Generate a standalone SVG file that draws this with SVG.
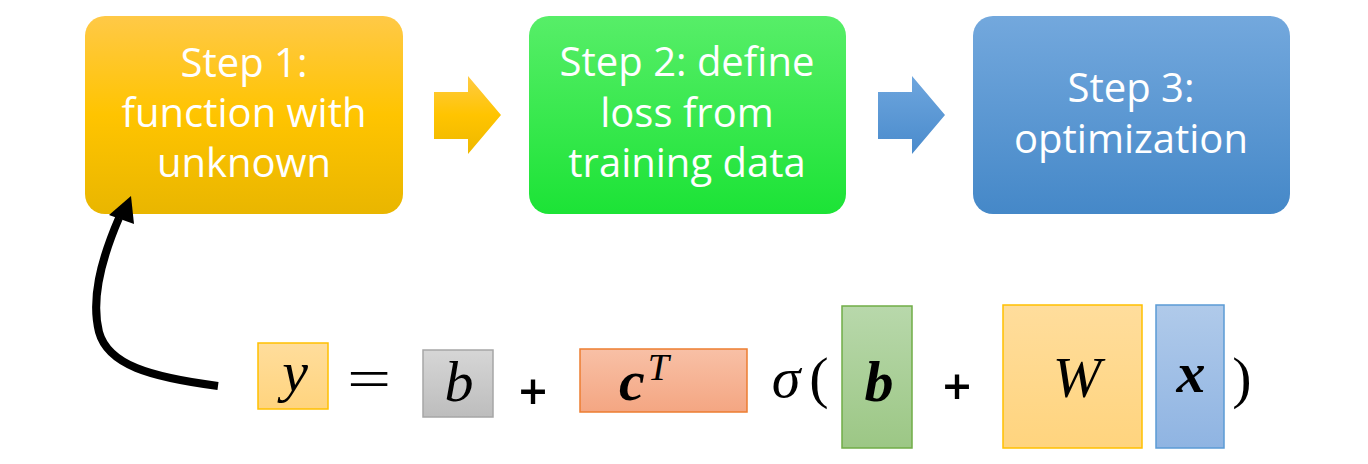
<svg xmlns="http://www.w3.org/2000/svg" width="1368" height="464" viewBox="0 0 1368 464">
<defs>
<linearGradient id="gY" x1="0" y1="0" x2="0" y2="1"><stop offset="0" stop-color="#FFC947"/><stop offset="0.5" stop-color="#FFC400"/><stop offset="1" stop-color="#E9B600"/></linearGradient>
<linearGradient id="gG" x1="0" y1="0" x2="0" y2="1"><stop offset="0" stop-color="#57EE68"/><stop offset="1" stop-color="#1CE336"/></linearGradient>
<linearGradient id="gB" x1="0" y1="0" x2="0" y2="1"><stop offset="0" stop-color="#73A8DD"/><stop offset="1" stop-color="#4588C8"/></linearGradient>
<linearGradient id="gAY" x1="0" y1="0" x2="0" y2="1"><stop offset="0" stop-color="#FFCB45"/><stop offset="0.5" stop-color="#FFC400"/><stop offset="1" stop-color="#EEB800"/></linearGradient>
<linearGradient id="gAB" x1="0" y1="0" x2="0" y2="1"><stop offset="0" stop-color="#6EA6DE"/><stop offset="1" stop-color="#4A8BCC"/></linearGradient>
<linearGradient id="fY" x1="0" y1="0" x2="0" y2="1"><stop offset="0" stop-color="#FFDD9C"/><stop offset="1" stop-color="#FFD47E"/></linearGradient>
<linearGradient id="fGr" x1="0" y1="0" x2="0" y2="1"><stop offset="0" stop-color="#D6D6D6"/><stop offset="1" stop-color="#BDBDBD"/></linearGradient>
<linearGradient id="fO" x1="0" y1="0" x2="0" y2="1"><stop offset="0" stop-color="#F8C0A6"/><stop offset="1" stop-color="#F4A682"/></linearGradient>
<linearGradient id="fG" x1="0" y1="0" x2="0" y2="1"><stop offset="0" stop-color="#B8D8AB"/><stop offset="1" stop-color="#9CC785"/></linearGradient>
<linearGradient id="fB" x1="0" y1="0" x2="0" y2="1"><stop offset="0" stop-color="#B0CAEA"/><stop offset="1" stop-color="#8FB4E2"/></linearGradient>
</defs>
<style>
.step{font-family:"Open Sans","Noto Sans",sans-serif;font-size:40px;fill:#FFFFFF;text-anchor:middle}
.m{font-family:"Liberation Serif","Times New Roman",serif;font-size:58px;fill:#000;text-anchor:middle}
.i{font-style:italic}
.bi{font-style:italic;font-weight:bold}
.op{font-family:"Open Sans","Noto Sans",sans-serif;font-size:50px;font-weight:600;fill:#000;text-anchor:middle}
</style>
<g id="step1">
<rect x="85" y="16" width="318" height="198" rx="20" fill="url(#gY)"/>
<text class="step" x="244" y="77">Step 1:</text>
<text class="step" x="244" y="127">function with</text>
<text class="step" x="244" y="177">unknown</text>
</g>
<g id="step2">
<rect x="529" y="16" width="317" height="198" rx="20" fill="url(#gG)"/>
<text class="step" x="687" y="76">Step 2: define</text>
<text class="step" x="687" y="127">loss from</text>
<text class="step" x="687" y="177">training data</text>
</g>
<g id="step3">
<rect x="973" y="16" width="317" height="198" rx="20" fill="url(#gB)"/>
<text class="step" x="1131" y="102">Step 3:</text>
<text class="step" x="1131" y="153">optimization</text>
</g>
<g id="connectors">
<polygon points="434,92 468,92 468,76 501,115 468,154 468,139 434,139" fill="url(#gAY)"/>
<polygon points="878,92 912,92 912,76 945,115 912,154 912,139 878,139" fill="url(#gAB)"/>
<path d="M218,386 C150,377 108,365 99,332 C91,300 100,262 119,218" fill="none" stroke="#000" stroke-width="8"/>
<polygon points="131,196 109,215 134,224" fill="#000"/>
</g>
<g id="eq-y">
<rect x="258" y="343" width="70" height="66" fill="url(#fY)" stroke="#FFC000" stroke-width="1.5"/>
<text class="m i" x="295" y="391">y</text>
</g>
<g id="eq-equals">
<text class="m" x="0" y="398" font-size="64" transform="translate(369,0) scale(1.35,1)">=</text>
</g>
<g id="eq-b">
<rect x="423" y="350" width="70" height="67" fill="url(#fGr)" stroke="#A6A6A6" stroke-width="1.5"/>
<text class="m i" x="459" y="401">b</text>
</g>
<g id="eq-plus1">
<text class="op" x="533" y="410">+</text>
</g>
<g id="eq-cT">
<rect x="580" y="349" width="167" height="63" fill="url(#fO)" stroke="#ED7D31" stroke-width="1.5"/>
<text class="m bi" x="644" y="400">c<tspan font-size="38" font-weight="normal" dy="-20" dx="3">T</tspan></text>
</g>
<g id="eq-sigma">
<text class="m i" x="786" y="397">σ</text>
<text class="m" x="819" y="397">(</text>
</g>
<g id="eq-bvec">
<rect x="842" y="306" width="70" height="142" fill="url(#fG)" stroke="#70AD47" stroke-width="1.5"/>
<text class="m bi" x="879" y="401">b</text>
</g>
<g id="eq-plus2">
<text class="op" x="957" y="405">+</text>
</g>
<g id="eq-W">
<rect x="1003" y="305" width="139" height="143" fill="url(#fY)" stroke="#FFC000" stroke-width="1.5"/>
<text class="m i" x="1077" y="397">W</text>
</g>
<g id="eq-x">
<rect x="1156" y="305" width="68" height="143" fill="url(#fB)" stroke="#5B9BD5" stroke-width="1.5"/>
<text class="m bi" x="1191" y="392">x</text>
</g>
<g id="eq-close">
<text class="m" x="1242" y="397">)</text>
</g>
</svg>
